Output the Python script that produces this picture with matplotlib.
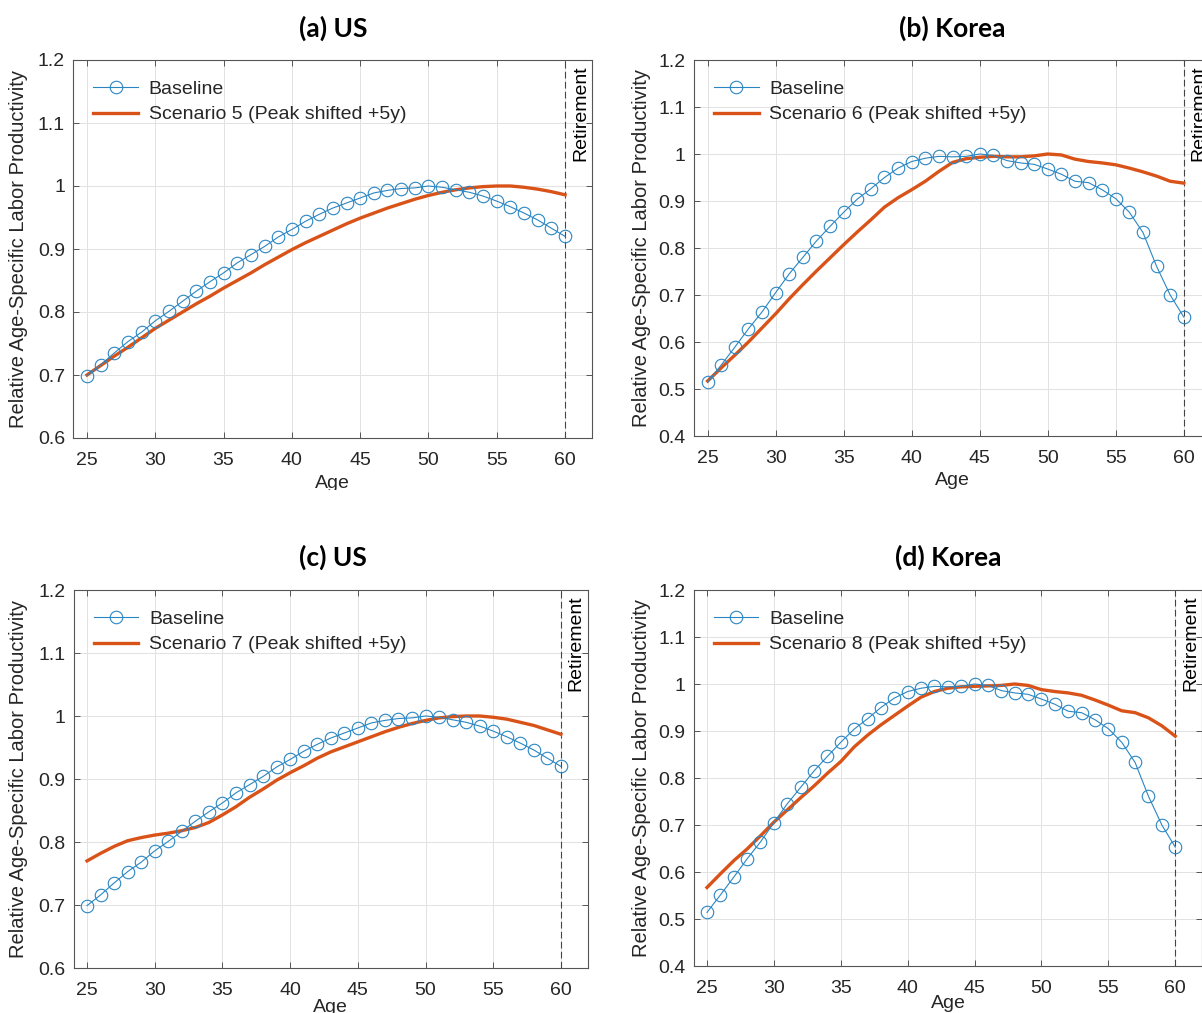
import matplotlib
matplotlib.use("Agg")
import matplotlib.pyplot as plt
from matplotlib.transforms import Bbox
import numpy as np

# ---------------- data ----------------
ages = list(range(25, 61))

us_baseline = [0.699, 0.716, 0.735, 0.753, 0.768, 0.786, 0.801, 0.817, 0.833, 0.848,
               0.862, 0.878, 0.891, 0.904, 0.919, 0.931, 0.944, 0.955, 0.965, 0.973,
               0.981, 0.989, 0.993, 0.996, 0.997, 1.000, 0.998, 0.994, 0.990, 0.984,
               0.976, 0.967, 0.957, 0.946, 0.933, 0.920]

us_scenario5 = [0.700, 0.715, 0.730, 0.744, 0.759, 0.774, 0.787, 0.800, 0.813, 0.825,
                0.838, 0.850, 0.862, 0.875, 0.887, 0.899, 0.910, 0.920, 0.930, 0.940,
                0.949, 0.957, 0.965, 0.972, 0.979, 0.985, 0.990, 0.994, 0.997, 0.999,
                1.000, 1.000, 0.998, 0.995, 0.991, 0.986]

us_scenario7 = [0.770, 0.782, 0.793, 0.802, 0.807, 0.811, 0.814, 0.818, 0.823, 0.831,
                0.843, 0.856, 0.871, 0.884, 0.898, 0.910, 0.921, 0.933, 0.943, 0.951,
                0.959, 0.967, 0.975, 0.982, 0.988, 0.993, 0.997, 0.999, 1.000, 1.000,
                0.998, 0.995, 0.990, 0.985, 0.978, 0.971]

kr_baseline = [0.514, 0.551, 0.589, 0.628, 0.664, 0.705, 0.745, 0.780, 0.815, 0.846,
               0.876, 0.904, 0.926, 0.950, 0.970, 0.984, 0.991, 0.995, 0.994, 0.995,
               1.000, 0.997, 0.986, 0.981, 0.978, 0.968, 0.957, 0.942, 0.939, 0.924,
               0.905, 0.876, 0.833, 0.761, 0.700, 0.653]

kr_scenario6 = [0.517, 0.545, 0.572, 0.600, 0.630, 0.660, 0.692, 0.722, 0.751, 0.779,
                0.807, 0.834, 0.860, 0.887, 0.907, 0.924, 0.942, 0.963, 0.982, 0.990,
                0.993, 0.995, 0.994, 0.994, 0.996, 1.000, 0.998, 0.989, 0.984, 0.981,
                0.977, 0.970, 0.962, 0.953, 0.942, 0.938]

kr_scenario8 = [0.567, 0.596, 0.624, 0.649, 0.677, 0.706, 0.732, 0.758, 0.783, 0.810,
                0.835, 0.866, 0.891, 0.913, 0.933, 0.953, 0.972, 0.984, 0.991, 0.994,
                0.995, 0.996, 0.997, 1.000, 0.997, 0.988, 0.984, 0.981, 0.976, 0.966,
                0.955, 0.943, 0.939, 0.928, 0.911, 0.889]

titles = ["(a) US", "(b) Korea", "(c) US", "(d) Korea"]
scenario_labels = ["Scenario 5 (Peak shifted +5y)", "Scenario 6 (Peak shifted +5y)",
                   "Scenario 7 (Peak shifted +5y)", "Scenario 8 (Peak shifted +5y)"]
baseline_label = "Baseline"
ylabel_text = "Relative Age-Specific Labor Productivity"
xlabel_text = "Age"
retirement_text = "Retirement"
retirement_age = 60
x_ticks = [25, 30, 35, 40, 45, 50, 55, 60]
us_yticks = [0.6, 0.7, 0.8, 0.9, 1.0, 1.1, 1.2]
kr_yticks = [0.4, 0.5, 0.6, 0.7, 0.8, 0.9, 1.0, 1.1, 1.2]

# ---------------- layout / style ----------------
W, H = 1202, 1013
plt.rcParams['font.family'] = ['Liberation Sans', 'DejaVu Sans']

BLUE = '#2a86c2'
ORANGE = '#D95319'
AXC = '#555555'
TXT = '#262626'

panels = [
    dict(box=(73.3, 592.4, 60, 438), base=us_baseline, scen=us_scenario5, yt=us_yticks,
         title_xy=(333, 28), ylab_x=28, xlab_xy=(332, 483), clip=490),
    dict(box=(694, 1211, 60, 436), base=kr_baseline, scen=kr_scenario6, yt=kr_yticks,
         title_xy=(952, 28), ylab_x=651, xlab_xy=(952, 480), clip=None),
    dict(box=(73.5, 588, 590, 968), base=us_baseline, scen=us_scenario7, yt=us_yticks,
         title_xy=(333, 557), ylab_x=28, xlab_xy=(330, 1007), clip=None),
    dict(box=(693.6, 1202, 590, 966), base=kr_baseline, scen=kr_scenario8, yt=kr_yticks,
         title_xy=(948, 557), ylab_x=651, xlab_xy=(948, 1003), clip=None),
]

fig = plt.figure(figsize=(W / 100, H / 100), dpi=100)

for i, p in enumerate(panels):
    l, r, t, b = p['box']
    ax = fig.add_axes([l / W, 1 - b / H, (r - l) / W, (b - t) / H])
    ax.set_xlim(24, 62)
    ax.set_ylim(p['yt'][0], p['yt'][-1])
    ax.set_xticks(x_ticks)
    ax.set_yticks(p['yt'])
    ax.set_yticklabels([f"{v:g}" for v in p['yt']])
    ax.grid(True, color='#e2e2e2', lw=0.7)
    ax.set_axisbelow(True)
    for s in ax.spines.values():
        s.set_color(AXC)
        s.set_linewidth(0.8)
    ax.tick_params(direction='in', length=4, width=0.7, color=AXC, top=True, right=True,
                   labelsize=14, labelcolor=TXT)
    ax.tick_params(axis='y', pad=6)
    ax.tick_params(axis='x', pad=10)

    ax.axvline(retirement_age, color='#444444', lw=0.8, ls=(0, (6, 3)), zorder=1)
    ax.plot(ages, p['base'], color=BLUE, lw=0.8, marker='o', ms=9, mfc='none',
            mec=BLUE, mew=0.8, label=baseline_label, zorder=3)
    ax.plot(ages, p['scen'], color=ORANGE, lw=2.4, label=scenario_labels[i], zorder=2)

    leg = ax.legend(loc='upper left',
                    bbox_to_anchor=(20 / (r - l), 1 - 20 / (b - t)),
                    frameon=False, fontsize=14, borderpad=0, borderaxespad=0,
                    handlelength=2.3, handletextpad=0.55, labelspacing=0.42)
    for txt in leg.get_texts():
        txt.set_color(TXT)

    ax.annotate(retirement_text, xy=(retirement_age, p['yt'][-1]), xycoords='data',
                xytext=(5, -4), textcoords='offset points', rotation=90,
                ha='left', va='top', fontsize=14, color='black', annotation_clip=False)

    ax.set_ylabel(ylabel_text, fontsize=14.5, color=TXT)
    ax.yaxis.set_label_coords((p['ylab_x'] - l) / (r - l), 0.5)

    xt = fig.text(p['xlab_xy'][0] / W, 1 - p['xlab_xy'][1] / H, xlabel_text,
                  ha='center', va='center', fontsize=14, color=TXT)
    if p['clip'] is not None:
        xt.set_clip_box(Bbox([[0, H - p['clip']], [W, H]]))
        xt.set_clip_on(True)

    fig.text(p['title_xy'][0] / W, 1 - p['title_xy'][1] / H, titles[i],
             ha='center', va='center', fontsize=19, fontweight='bold',
             family=['Lato', 'DejaVu Sans'], color='black')

fig.savefig('out.png', dpi=100)
